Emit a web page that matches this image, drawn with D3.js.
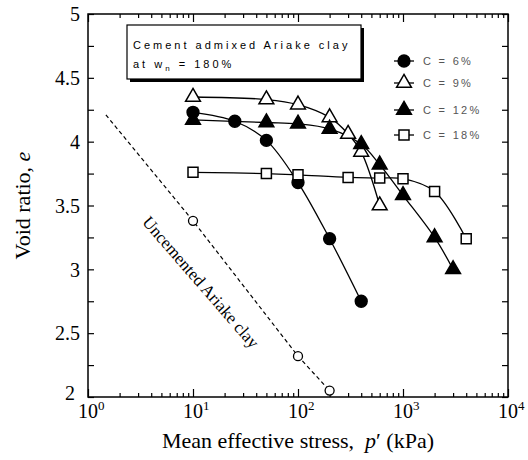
<!DOCTYPE html>
<html lang="en">
<head>
<meta charset="utf-8">
<title>Void ratio vs mean effective stress</title>
<style>
  body { margin: 0; background: #fff; }
  svg text { font-family: "Liberation Serif", "Times New Roman", serif; fill: #000; }
  .box-text { font-family: "Liberation Sans", Arial, sans-serif; font-size: 11px; letter-spacing: 3px; }
  .leg-text { font-family: "Liberation Sans", Arial, sans-serif; font-size: 11px; letter-spacing: 2.3px; fill: #555; }
</style>
</head>
<body>
<script src="https://cdn.jsdelivr.net/npm/d3@7"></script>
<script>
// size of the picture and the plot frame
var w = 528, h = 460;
var margin = {top: 14, right: 20, bottom: 63, left: 88};

// cemented Ariake clay, one pair of arrays per cement content
var p6  = [10, 25, 50, 100, 200, 400];
var e6  = [4.23, 4.16, 4.01, 3.68, 3.24, 2.75];
var p9  = [10, 50, 100, 200, 300, 400, 600];
var e9  = [4.35, 4.33, 4.29, 4.19, 4.06, 3.92, 3.50];
var p12 = [10, 50, 100, 200, 400, 600, 1000, 2000, 3000];
var e12 = [4.17, 4.15, 4.14, 4.10, 3.98, 3.82, 3.58, 3.25, 3.00];
var p18 = [10, 50, 100, 300, 600, 1000, 2000, 4000];
var e18 = [3.76, 3.75, 3.74, 3.72, 3.715, 3.71, 3.61, 3.24];

// uncemented clay: measured points and the dashed compression line
var pU = [10, 100, 200];
var eU = [3.38, 2.32, 2.05];
var pULine = [1.48, 10, 100, 200];
var eULine = [4.21, 3.38, 2.32, 2.05];

var seriesNames = ["C = 6%", "C = 9%", "C = 12%", "C = 18%"];
var xTicks = [1, 10, 100, 1000, 10000];
var yTicks = [2, 2.5, 3, 3.5, 4, 4.5, 5];

var iw = w - margin.left - margin.right;
var ih = h - margin.top - margin.bottom;

var svg = d3.select("body").append("svg")
  .attr("width", w)
  .attr("height", h);

var g = svg.append("g")
  .attr("transform", "translate(" + margin.left + "," + margin.top + ")");

var x = d3.scaleLog().domain([1, 10000]).range([0, iw]);
var y = d3.scaleLinear().domain([2, 5]).range([ih, 0]);

// minor log ticks 2..9 in every decade
var minorX = [];
xTicks.slice(0, 4).forEach(function(d) {
  for (var k = 2; k < 10; k++) minorX.push(d * k);
});
var yMinor = d3.range(2.25, 5, 0.5);

function tidy(sel) {
  sel.select(".domain").remove();
  sel.selectAll("line").attr("stroke", "#000").attr("stroke-width", 1.2);
}

// bottom and top axes, ticks pointing inward
g.append("g").attr("transform", "translate(0," + ih + ")")
  .call(d3.axisBottom(x).tickValues(xTicks).tickSize(-8).tickFormat(""))
  .call(tidy);
g.append("g").attr("transform", "translate(0," + ih + ")")
  .call(d3.axisBottom(x).tickValues(minorX).tickSize(-4).tickFormat(""))
  .call(tidy);
g.append("g")
  .call(d3.axisTop(x).tickValues(xTicks).tickSize(-8).tickFormat(""))
  .call(tidy);
g.append("g")
  .call(d3.axisTop(x).tickValues(minorX).tickSize(-4).tickFormat(""))
  .call(tidy);

// left and right axes
g.append("g")
  .call(d3.axisLeft(y).tickValues(yTicks).tickSize(-6).tickPadding(8).tickFormat(d3.format("")))
  .call(tidy)
  .selectAll("text")
  .style("font-size", "20px")
  .attr("x", function(d) { return d === 2 ? -13 : -8; })
  .attr("dy", function(d) { return d === 2 ? "0.1em" : "0.34em"; });
g.append("g")
  .call(d3.axisLeft(y).tickValues(yMinor).tickSize(-6).tickFormat(""))
  .call(tidy);
g.append("g").attr("transform", "translate(" + iw + ",0)")
  .call(d3.axisRight(y).tickValues(yTicks.concat(yMinor)).tickSize(-6).tickFormat(""))
  .call(tidy);

// x tick labels as powers of ten, the "10" centred on the tick
var xl = g.selectAll(".xlab").data(xTicks).enter().append("text")
  .attr("class", "xlab")
  .attr("x", function(d) { return x(d) - 10; })
  .attr("y", ih + 21)
  .style("font-size", "20px");
xl.append("tspan").text("10");
xl.append("tspan").attr("dy", -8).style("font-size", "13px")
  .text(function(d) { return Math.round(Math.log10(d)); });

// frame
g.append("rect")
  .attr("width", iw).attr("height", ih)
  .attr("fill", "none").attr("stroke", "#000").attr("stroke-width", 1.5);

// axis titles
var xt = svg.append("text")
  .attr("x", margin.left + iw / 2)
  .attr("y", 448)
  .attr("text-anchor", "middle")
  .style("white-space", "pre")
  .style("font-size", "22px");
xt.append("tspan").text("Mean effective stress,  ");
xt.append("tspan").style("font-style", "italic").text("p");
xt.append("tspan").text("\u2032 (kPa)");

var yt = svg.append("text")
  .attr("transform", "translate(30," + (margin.top + ih / 2) + ") rotate(-90)")
  .attr("text-anchor", "middle")
  .style("font-size", "22px");
yt.append("tspan").text("Void ratio, ");
yt.append("tspan").style("font-style", "italic").text("e");

// lines
var smooth = d3.line()
  .x(function(d) { return x(d[0]); })
  .y(function(d) { return y(d[1]); })
  .curve(d3.curveCatmullRom.alpha(0.5));

var straight = d3.line()
  .x(function(d) { return x(d[0]); })
  .y(function(d) { return y(d[1]); });

var series = [
  {p: p6, e: e6, shape: d3.symbolCircle, size: 110, fill: "#000"},
  {p: p9, e: e9, shape: d3.symbolTriangle, size: 95, fill: "#fff"},
  {p: p12, e: e12, shape: d3.symbolTriangle, size: 95, fill: "#000"},
  {p: p18, e: e18, shape: d3.symbolSquare, size: 100, fill: "#fff"}
];

g.append("path")
  .datum(d3.zip(pULine, eULine))
  .attr("d", straight)
  .attr("fill", "none")
  .attr("stroke", "#000")
  .attr("stroke-width", 1.2)
  .attr("stroke-dasharray", "4,3");

series.forEach(function(s) {
  g.append("path")
    .datum(d3.zip(s.p, s.e))
    .attr("d", smooth)
    .attr("fill", "none")
    .attr("stroke", "#000")
    .attr("stroke-width", 1.3);
});

series.forEach(function(s) {
  g.selectAll(null).data(d3.zip(s.p, s.e)).enter().append("path")
    .attr("transform", function(d) { return "translate(" + x(d[0]) + "," + y(d[1]) + ")"; })
    .attr("d", d3.symbol().type(s.shape).size(s.size))
    .attr("fill", s.fill)
    .attr("stroke", "#000")
    .attr("stroke-width", 1.5);
});

g.selectAll(".unc").data(d3.zip(pU, eU)).enter().append("circle")
  .attr("class", "unc")
  .attr("cx", function(d) { return x(d[0]); })
  .attr("cy", function(d) { return y(d[1]); })
  .attr("r", 4.5)
  .attr("fill", "#fff")
  .attr("stroke", "#000")
  .attr("stroke-width", 1.3);

// label along the uncemented line
svg.append("text")
  .attr("transform", "translate(201,282) rotate(49)")
  .attr("text-anchor", "middle")
  .attr("dy", "0.35em")
  .style("font-size", "17px")
  .text("Uncemented Ariake clay");

// boxed caption with a drop shadow
svg.append("rect")
  .attr("x", 130).attr("y", 28).attr("width", 234).attr("height", 54)
  .attr("fill", "#000");
svg.append("rect")
  .attr("x", 127).attr("y", 25).attr("width", 234).attr("height", 54)
  .attr("fill", "#fff").attr("stroke", "#000").attr("stroke-width", 1.2);
svg.append("text").attr("class", "box-text")
  .attr("x", 133).attr("y", 49)
  .text("Cement admixed Ariake clay");
var l2 = svg.append("text").attr("class", "box-text")
  .attr("x", 133).attr("y", 68);
l2.append("tspan").text("at w");
l2.append("tspan").attr("dy", 3).style("font-size", "8px").text("n");
l2.append("tspan").attr("dy", -3).text(" = 180%");

// legend
var legY = [61, 83, 110, 135];
var leg = svg.selectAll(".leg").data(series).enter().append("g")
  .attr("class", "leg")
  .attr("transform", function(d, i) { return "translate(404," + legY[i] + ")"; });
leg.append("line")
  .attr("x1", -10).attr("x2", 10)
  .attr("stroke", "#000").attr("stroke-width", 1.3);
leg.append("path")
  .attr("d", function(d) { return d3.symbol().type(d.shape).size(d.size)(); })
  .attr("fill", function(d) { return d.fill; })
  .attr("stroke", "#000")
  .attr("stroke-width", 1.5);
leg.append("text").attr("class", "leg-text")
  .attr("x", 19).attr("dy", "0.35em")
  .text(function(d, i) { return seriesNames[i]; });
</script>
</body>
</html>
